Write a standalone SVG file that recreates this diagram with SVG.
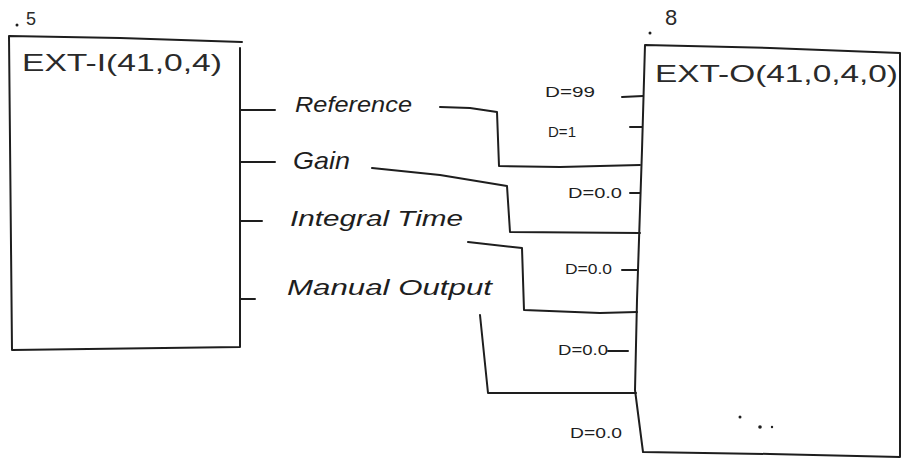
<svg xmlns="http://www.w3.org/2000/svg" width="902" height="461" viewBox="0 0 902 461">
<style>
.ln{fill:none;stroke:#1e1e1e;stroke-width:2;stroke-linecap:round;stroke-linejoin:round}
.t{font-family:"Liberation Sans","DejaVu Sans",sans-serif;fill:#2a2a2a}
.hw{font-family:"Liberation Sans","DejaVu Sans",sans-serif;font-style:italic;fill:#1e1e1e}
.d{font-family:"Liberation Sans","DejaVu Sans",sans-serif;font-size:15px;fill:#1e1e1e}
</style>
<rect width="902" height="461" fill="#fff"/>
<g id="ext-i">
<path class="ln" d="M9,36 L120,38 L242,42 M240,48 L240,347 L12,350 L9,36"/>
<text class="t" x="22" y="71" font-size="24" textLength="200" lengthAdjust="spacingAndGlyphs">EXT-I(41,0,4)</text>
<circle cx="17" cy="25" r="1.5" fill="#1e1e1e"/>
<text class="t" x="26" y="25" font-size="18">5</text>
<path class="ln" d="M241,110 L275,110 M241,162 L275,162 M241,221 L262,221 M241,299 L255,299"/>
<text class="hw" x="295" y="112" font-size="22" textLength="117" lengthAdjust="spacingAndGlyphs">Reference</text>
<text class="hw" x="293" y="169" font-size="24" textLength="57" lengthAdjust="spacingAndGlyphs">Gain</text>
<text class="hw" x="290" y="226" font-size="22" textLength="173" lengthAdjust="spacingAndGlyphs">Integral Time</text>
<text class="hw" x="287" y="295" font-size="22" textLength="205" lengthAdjust="spacingAndGlyphs">Manual Output</text>
</g>
<g id="ext-o">
<path class="ln" d="M645,45 L770,48 L900,53 L900,457 L770,454 L643,452 L635,390 L637,300 L642,150 Z"/>
<text class="t" x="655" y="82" font-size="24" textLength="243" lengthAdjust="spacingAndGlyphs">EXT-O(41,0,4,0)</text>
<circle cx="650" cy="33" r="1.5" fill="#1e1e1e"/>
<text class="t" x="665" y="25" font-size="22">8</text>
<path class="ln" d="M622,97 L643,96 M630,127 L642,127 M630,193 L640,193 M622,270 L637,270 M608,351 L628,351"/>
<text class="d" x="545" y="97" textLength="50" lengthAdjust="spacingAndGlyphs">D=99</text>
<text class="d" x="548" y="137" textLength="28" lengthAdjust="spacingAndGlyphs">D=1</text>
<text class="d" x="568" y="198" textLength="54" lengthAdjust="spacingAndGlyphs">D=0.0</text>
<text class="d" x="565" y="274" textLength="47" lengthAdjust="spacingAndGlyphs">D=0.0</text>
<text class="d" x="558" y="355" textLength="50" lengthAdjust="spacingAndGlyphs">D=0.0</text>
<text class="d" x="570" y="438" textLength="52" lengthAdjust="spacingAndGlyphs">D=0.0</text>
<circle cx="740" cy="417" r="1.5" fill="#1e1e1e"/>
<circle cx="760" cy="427" r="1.8" fill="#1e1e1e"/>
<circle cx="772" cy="427" r="1.2" fill="#1e1e1e"/>
</g>
<g id="connectors">
<path class="ln" d="M440,107 L470,108 L497,112 L499,166 L560,167 L640,165"/>
<path class="ln" d="M372,168 L440,175 L507,186 L510,232 L640,233"/>
<path class="ln" d="M468,242 L522,248 L524,310 L600,313 L637,312"/>
<path class="ln" d="M480,315 L488,393 L560,393 L636,393"/>
</g>
</svg>
